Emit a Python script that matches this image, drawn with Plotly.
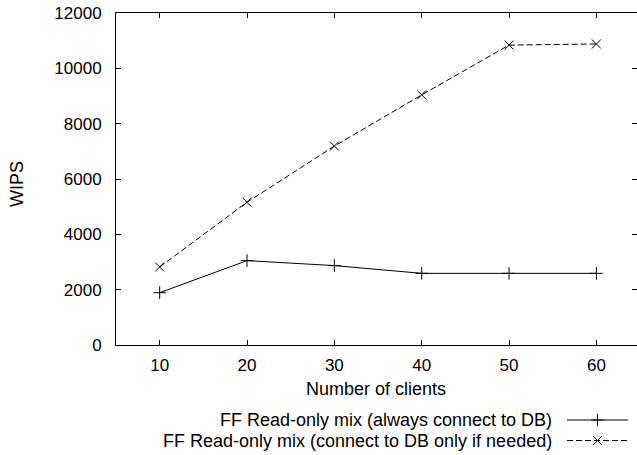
import plotly.graph_objects as go

clients = [10, 20, 30, 40, 50, 60]
always_connect = [1890, 3050, 2870, 2590, 2590, 2590]
connect_if_needed = [2820, 5160, 7190, 9040, 10840, 10880]
series_names = ["FF Read-only mix (always connect to DB)",
                "FF Read-only mix (connect to DB only if needed)"]
x_ticks = [10, 20, 30, 40, 50, 60]
y_ticks = [0, 2000, 4000, 6000, 8000, 10000, 12000]
y_tick_labels = ["0", "2000", "4000", "6000", "8000", "10000", "12000"]
x_title = "Number of clients"
y_title = "WIPS"

FAMILY = "Liberation Sans, Arial, Helvetica, sans-serif"
FONT = dict(family=FAMILY, size=18, color="black")
TICKFONT = dict(family=FAMILY, size=17, color="black")
W, H = 637, 455
ML, MT = 116, 13
PW, PH = W - ML, H - MT

def px_x(px):
    return (px - ML) / PW

def px_y(py):
    return (H - py) / PH

fig = go.Figure()
styles = [
    dict(dash="solid", symbol="cross-thin-open"),
    dict(dash="6px,3px", symbol="x-thin-open"),
]
for vals, st in zip([always_connect, connect_if_needed], styles):
    fig.add_trace(go.Scatter(
        x=clients, y=vals, mode="lines+markers",
        line=dict(color="black", width=1, dash=st["dash"]),
        marker=dict(symbol=st["symbol"], size=9, color="black",
                    line=dict(color="black", width=1)),
        showlegend=False, xaxis="x", yaxis="y"))

# legend samples (gnuplot-style key: text left of the sample)
for i, (name, st) in enumerate(zip(series_names, styles)):
    row = 1 - i
    fig.add_trace(go.Scatter(
        x=[0, 1], y=[row, row], mode="lines",
        line=dict(color="black", width=1, dash=st["dash"]),
        showlegend=False, xaxis="x2", yaxis="y2", hoverinfo="skip"))
    fig.add_trace(go.Scatter(
        x=[0.5], y=[row], mode="markers",
        marker=dict(symbol=st["symbol"], size=9, color="black",
                    line=dict(color="black", width=1)),
        showlegend=False, xaxis="x2", yaxis="y2", hoverinfo="skip"))
    fig.add_annotation(text=name, xref="paper", yref="y2",
                       x=px_x(554), y=row, xanchor="right", yanchor="middle",
                       showarrow=False, font=FONT)

axis_common = dict(ticks="inside", ticklen=5, tickwidth=1, tickcolor="black",
                   showline=True, linecolor="black", linewidth=1,
                   showgrid=False, zeroline=False, mirror="ticks",
                   tickfont=TICKFONT, automargin=False)

fig.update_layout(
    template="none",
    width=W, height=H,
    margin=dict(l=ML, r=0, t=MT, b=0, pad=0, autoexpand=False),
    paper_bgcolor="white", plot_bgcolor="white",
    font=FONT,
    xaxis=dict(range=[5, 64.65], tickvals=x_ticks, domain=[0, 1],
               anchor="y", ticklabelstandoff=5, **axis_common),
    yaxis=dict(range=[0, 12000], tickvals=y_ticks, ticktext=y_tick_labels,
               domain=[px_y(345), 1], anchor="x",
               ticklabelstandoff=10, **axis_common),
    xaxis2=dict(range=[0, 1], domain=[px_x(567), px_x(628)], anchor="y2",
                visible=False, fixedrange=True, automargin=False),
    yaxis2=dict(range=[-0.5, 1.5], domain=[px_y(450.75), px_y(409.75)], anchor="x2",
                visible=False, fixedrange=True, automargin=False),
)

fig.add_annotation(text=x_title, xref="paper", yref="paper",
                   x=px_x(376), y=px_y(389), xanchor="center", yanchor="middle",
                   showarrow=False, font=FONT)
fig.add_annotation(text=y_title, xref="paper", yref="paper",
                   x=px_x(17), y=px_y(184), xanchor="center", yanchor="middle",
                   textangle=-90, showarrow=False, font=FONT)

fig.write_html("out.html")
